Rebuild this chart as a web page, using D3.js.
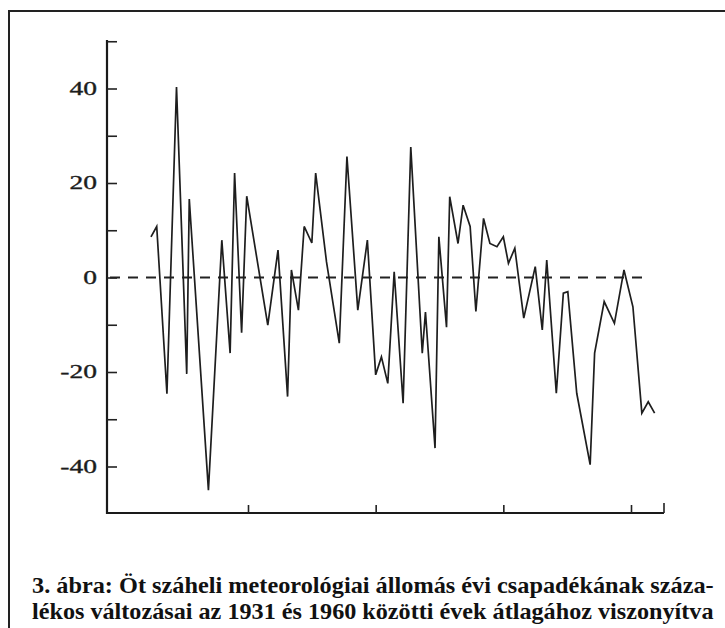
<!DOCTYPE html>
<html>
<head>
<meta charset="utf-8">
<script src="https://cdn.jsdelivr.net/npm/d3@7"></script>
<style>
  html, body { margin: 0; padding: 0; background: #fff; }
  svg { display: block; }
  .tickLabel { font-family: 'Liberation Serif', 'DejaVu Serif', serif; font-size: 19px; fill: #1c1c1c; stroke: #1c1c1c; stroke-width: 0.35px; }
  .caption { font-family: 'Liberation Serif', serif; font-weight: bold; font-size: 24px; fill: #111; }
</style>
</head>
<body>
<svg id="chart"></svg>
<script>
// percentage change of annual rainfall (5 Sahel stations), relative to the 1931-1960 mean
const years = [
  1904.8, 1905.7, 1907.3, 1908.8, 1910.4, 1910.8, 1913.8, 1915.9, 1917.2, 1917.9,
  1919.0, 1919.8, 1923.1, 1924.7, 1926.2, 1926.8, 1927.9, 1928.8, 1930.0, 1930.6,
  1932.3, 1934.3, 1935.5, 1937.2, 1938.7, 1940.0, 1940.9, 1941.9, 1942.9, 1944.3,
  1945.5, 1947.3, 1947.8, 1949.3, 1949.9, 1951.1, 1951.6, 1952.9, 1953.7, 1954.8,
  1955.7, 1956.9, 1957.9, 1959.0, 1960.0, 1960.8, 1961.8, 1963.2, 1965.0, 1966.1,
  1966.8, 1968.3, 1969.4, 1970.1, 1971.5, 1973.6, 1974.3, 1975.8, 1977.4, 1978.9,
  1980.3, 1981.7, 1982.7, 1983.7
];
const values = [
  8.6, 10.8, -24.6, 40.3, -20.4, 16.6, -45.0, 7.9, -16.0, 22.1,
  -11.7, 17.2, -10.1, 5.8, -25.2, 1.6, -6.9, 10.8, 7.3, 22.1,
  3.3, -13.9, 25.6, -6.9, 7.9, -20.6, -16.8, -22.4, 1.2, -26.6,
  27.6, -16.0, -7.3, -36.1, 8.6, -10.5, 17.1, 7.2, 15.3, 10.8,
  -7.2, 12.5, 7.2, 6.5, 8.6, 3.0, 6.2, -8.6, 2.3, -11.1,
  3.7, -24.5, -3.3, -3.0, -24.5, -39.6, -16.0, -5.1, -9.7, 1.6,
  -6.2, -28.7, -26.3, -28.7
];
const yTicks = [-40, -30, -20, -10, 0, 10, 20, 30, 40, 50];
const yLabels = [-40, -20, 0, 20, 40];
const xTicks = [1920, 1940, 1960, 1980];
const captionLines = [
  '3. ábra: Öt száheli meteorológiai állomás évi csapadékának száza-',
  'lékos változásai az 1931 és 1960 közötti évek átlagához viszonyítva'
];

const width = 725, height = 628;
const axisX = 107, axisBottom = 513, axisTop = 40, axisRight = 664;

const svg = d3.select('#chart').attr('width', width).attr('height', height);

// frame around the figure
svg.append('rect')
    .attr('x', 9).attr('y', 11)
    .attr('width', 760).attr('height', 700)
    .attr('fill', 'none')
    .attr('stroke', '#222')
    .attr('stroke-width', 2);

const x = d3.scaleLinear().domain([1920, 1980]).range([248, 631]);
const y = d3.scaleLinear().domain([-40, 40]).range([466.5, 88.5]);

// y axis
const yAxis = svg.append('g').attr('transform', 'translate(' + axisX + ',0)');
yAxis.append('line')
    .attr('y1', axisTop).attr('y2', axisBottom + 1)
    .attr('stroke', '#1a1a1a').attr('stroke-width', 2.2);
yAxis.call(d3.axisRight(y).tickValues(yTicks).tickSize(10).tickFormat(''))
    .call((g) => g.select('.domain').remove())
    .call((g) => g.selectAll('.tick line').attr('stroke', '#222').attr('stroke-width', 1.6));

svg.append('g').selectAll('text')
    .data(yLabels)
    .join('text')
    .attr('class', 'tickLabel')
    .attr('text-anchor', 'end')
    .attr('dominant-baseline', 'central')
    .attr('transform', (d) => 'translate(97,' + y(d) + ') scale(1.45,1)')
    .text((d) => d);

// x axis
const xAxis = svg.append('g').attr('transform', 'translate(0,' + axisBottom + ')');
xAxis.append('line')
    .attr('x1', axisX - 1).attr('x2', axisRight)
    .attr('stroke', '#1a1a1a').attr('stroke-width', 2.2);
xAxis.call(d3.axisTop(x).tickValues(xTicks).tickSize(8).tickFormat(''))
    .call((g) => g.select('.domain').remove())
    .call((g) => g.selectAll('.tick line').attr('stroke', '#222').attr('stroke-width', 1.6));
xAxis.append('line')
    .attr('x1', axisRight).attr('x2', axisRight)
    .attr('y1', -10).attr('y2', 0)
    .attr('stroke', '#222').attr('stroke-width', 1.6);

// zero reference
svg.append('line')
    .attr('x1', axisX + 3).attr('x2', 649)
    .attr('y1', y(0)).attr('y2', y(0))
    .attr('stroke', '#222')
    .attr('stroke-width', 2)
    .attr('stroke-dasharray', '10,8');

// series
const line = d3.line()
    .x((d, i) => x(years[i]))
    .y((d) => y(d));

svg.append('path')
    .datum(values)
    .attr('d', line)
    .attr('fill', 'none')
    .attr('stroke', '#1e1e1e')
    .attr('stroke-width', 1.7)
    .attr('stroke-linejoin', 'miter')
    .attr('stroke-miterlimit', 4);

// caption: condensed to the column width by a horizontal scale
const captionWidth = 682;
svg.append('g').selectAll('text')
    .data(captionLines)
    .join('text')
    .attr('class', 'caption')
    .text((d) => d)
    .attr('transform', function(d, i) {
      const len = this.getComputedTextLength();
      return 'translate(32,' + (593 + i * 26) + ') scale(' + (captionWidth / len) + ',1)';
    });
</script>
</body>
</html>
